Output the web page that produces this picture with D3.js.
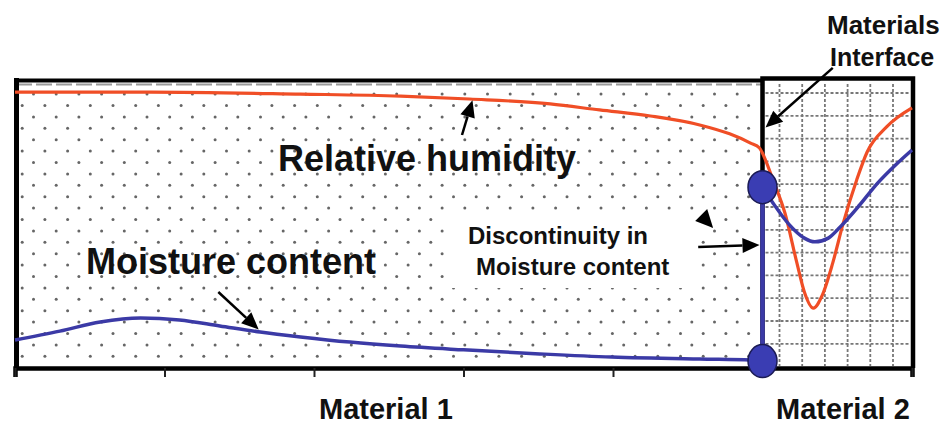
<!DOCTYPE html>
<html>
<head>
<meta charset="utf-8">
<script src="https://cdn.jsdelivr.net/npm/d3@7"></script>
<style>
  body { margin: 0; background: #fff; }
  text { font-family: "Liberation Sans", Arial, sans-serif; font-weight: bold; fill: #111; }
</style>
</head>
<body>
<div id="chart"></div>
<script>
const width = 941;
const height = 426;

// positions along the wall: 0..5 material 1, 5..6 material 2
const xTicks = [0, 1, 2, 3, 4, 5, 6];
const interfaceX = 5;

// relative humidity (arbitrary units, 0..100)
const rhX = [0, 0.9, 1.91, 2.58, 3.04, 3.58, 3.91, 4.25, 4.58, 4.78, 4.92, 4.98, 5.02, 5.07, 5.15, 5.23, 5.28, 5.34, 5.40, 5.47, 5.54, 5.63, 5.70, 5.83, 6.0];
const rhY = [95.8, 95.8, 95.1, 94.4, 93.4, 91.7, 89.6, 87.5, 84.4, 81.3, 78.1, 76.4, 72.2, 65.3, 53.8, 36.5, 26.4, 20.8, 25.3, 36.5, 50.3, 65.3, 75.0, 83.7, 90.3];

// moisture content in material 1
const mc1X = [0, 0.30, 0.57, 0.84, 1.10, 1.37, 1.64, 1.91, 2.24, 2.58, 3.00, 3.51, 3.99, 4.58, 4.92, 5.0];
const mc1Y = [9.7, 12.8, 16.0, 17.4, 16.7, 14.6, 12.5, 10.8, 9.0, 7.6, 6.3, 4.9, 3.8, 3.1, 2.8, 2.4];

// moisture content in material 2
const mc2X = [5.0, 5.07, 5.18, 5.28, 5.35, 5.44, 5.52, 5.65, 5.77, 5.89, 6.0];
const mc2Y = [62.8, 57.3, 49.7, 45.1, 43.8, 45.1, 49.0, 56.6, 64.2, 70.5, 75.7];

// annotation arrows [tailX, tailY, tipX, tipY] in data units
const arrows = [
  [2.99, 80.9, 3.06, 93.0],   // relative humidity
  [1.36, 26.4, 1.63, 13.4],   // moisture content
  [4.57, 42.0, 4.98, 42.7],   // discontinuity
  [5.47, 104.2, 5.02, 83.5]   // materials interface
];

const svg = d3.select("#chart").append("svg").attr("width", width).attr("height", height);

const x = d3.scaleLinear().domain([0, 6]).range([15, 912]);
const y = d3.scaleLinear().domain([0, 100]).range([368, 80]);

// dotted fill of material 1
const dots = [];
for (let k = -1; k <= 22; k++) {
  const yy = 105.5 + 11.4 * k;
  const x0 = (k % 2 === 0) ? 22.2 : 33.5;
  for (let xx = x0; xx < x(interfaceX) - 3; xx += 22.7) dots.push([xx, yy]);
}
svg.append("g").selectAll("circle").data(dots).join("circle")
  .attr("cx", d => d[0]).attr("cy", d => d[1]).attr("r", 1.5).attr("fill", "#666");

// dashed grid of material 2
const grid = svg.append("g").attr("stroke", "#777").attr("stroke-width", 1.8).attr("stroke-dasharray", "3,2");
for (let gx = 779.5; gx < x(6) - 5; gx += 22.7)
  grid.append("line").attr("x1", gx).attr("x2", gx).attr("y1", 84).attr("y2", 366);
for (let gy = 93; gy < y(0) - 5; gy += 22.8)
  grid.append("line").attr("x1", x(interfaceX) + 3).attr("x2", x(6) - 2).attr("y1", gy).attr("y2", gy);

// white box behind the discontinuity note
svg.append("rect").attr("x", 452).attr("y", 216).attr("width", 244).attr("height", 72).attr("fill", "#fff");

// frame
svg.append("line").attr("x1", 16).attr("x2", x(interfaceX)).attr("y1", 84.5).attr("y2", 84.5)
  .attr("stroke", "#9a9a9a").attr("stroke-width", 2).attr("stroke-dasharray", "16,4");
svg.append("line").attr("x1", 14).attr("x2", x(interfaceX)).attr("y1", 80.5).attr("y2", 80.5)
  .attr("stroke", "#000").attr("stroke-width", 4);
svg.append("line").attr("x1", 16.5).attr("x2", 16.5).attr("y1", 78).attr("y2", 370)
  .attr("stroke", "#000").attr("stroke-width", 5);
svg.append("path")
  .attr("d", `M${x(interfaceX)},${y(0)} V78.5 H${x(6) + 1} V${y(0)}`)
  .attr("fill", "none").attr("stroke", "#000").attr("stroke-width", 4.5);

// bottom axis
const axis = svg.append("g").attr("transform", `translate(0,${y(0)})`)
  .call(d3.axisBottom(x).tickValues(xTicks).tickSize(9).tickFormat(""));
axis.select(".domain").attr("stroke", "#000").attr("stroke-width", 4.5);
axis.selectAll(".tick line").attr("stroke", "#222").attr("stroke-width", 2);

const line = d3.line().x(d => x(d[0])).y(d => y(d[1])).curve(d3.curveMonotoneX);

// relative humidity
svg.append("path").datum(d3.zip(rhX, rhY)).attr("d", line)
  .attr("fill", "none").attr("stroke", "#f04e26").attr("stroke-width", 3.2);

// moisture content
svg.append("path").datum(d3.zip(mc1X, mc1Y)).attr("d", line)
  .attr("fill", "none").attr("stroke", "#3b3aa6").attr("stroke-width", 3.5);
svg.append("path").datum(d3.zip(mc2X, mc2Y)).attr("d", line)
  .attr("fill", "none").attr("stroke", "#3b3aa6").attr("stroke-width", 3.5);

// discontinuity at the interface
const jump = [[interfaceX, mc1Y[mc1Y.length - 1]], [interfaceX, mc2Y[0]]];
svg.append("line")
  .attr("x1", x(jump[0][0])).attr("y1", y(jump[0][1]))
  .attr("x2", x(jump[1][0])).attr("y2", y(jump[1][1]))
  .attr("stroke", "#3b3aa6").attr("stroke-width", 4.5);
svg.append("g").selectAll("ellipse").data(jump).join("ellipse")
  .attr("cx", d => x(d[0])).attr("cy", d => y(d[1])).attr("rx", 14.5).attr("ry", 16.5)
  .attr("fill", "#3a3db3").attr("stroke", "#1b1b55").attr("stroke-width", 1.5);

// arrows
function arrow(a) {
  const x1 = x(a[0]), y1 = y(a[1]), x2 = x(a[2]), y2 = y(a[3]);
  const ang = Math.atan2(y2 - y1, x2 - x1);
  const len = 17, half = 7.5;
  const bx = x2 - len * Math.cos(ang), by = y2 - len * Math.sin(ang);
  svg.append("line").attr("x1", x1).attr("y1", y1).attr("x2", bx).attr("y2", by)
    .attr("stroke", "#000").attr("stroke-width", 2.5);
  const px = -Math.sin(ang) * half, py = Math.cos(ang) * half;
  svg.append("polygon")
    .attr("points", [[x2, y2], [bx + px, by + py], [bx - px, by - py]].map(p => p.join(",")).join(" "))
    .attr("fill", "#000");
}
arrows.forEach(arrow);

// stray arrow head
const strayHead = [[4.55, 51.0], [4.63, 55.2], [4.67, 48.6]];
svg.append("polygon")
  .attr("points", strayHead.map(p => [x(p[0]), y(p[1])].join(",")).join(" "))
  .attr("fill", "#000");

// labels
svg.append("text").attr("x", 278).attr("y", 171).attr("font-size", 36).text("Relative humidity");
svg.append("text").attr("x", 86).attr("y", 274).attr("font-size", 36).text("Moisture content");
svg.append("text").attr("x", 468).attr("y", 244).attr("font-size", 24).text("Discontinuity in");
svg.append("text").attr("x", 476).attr("y", 275).attr("font-size", 24).text("Moisture content");
svg.append("text").attr("x", 827).attr("y", 34).attr("font-size", 26).text("Materials");
svg.append("text").attr("x", 830).attr("y", 66).attr("font-size", 25).text("Interface");
svg.append("text").attr("x", 319).attr("y", 419).attr("font-size", 29).text("Material 1");
svg.append("text").attr("x", 776).attr("y", 419).attr("font-size", 29).text("Material 2");
</script>
</body>
</html>
